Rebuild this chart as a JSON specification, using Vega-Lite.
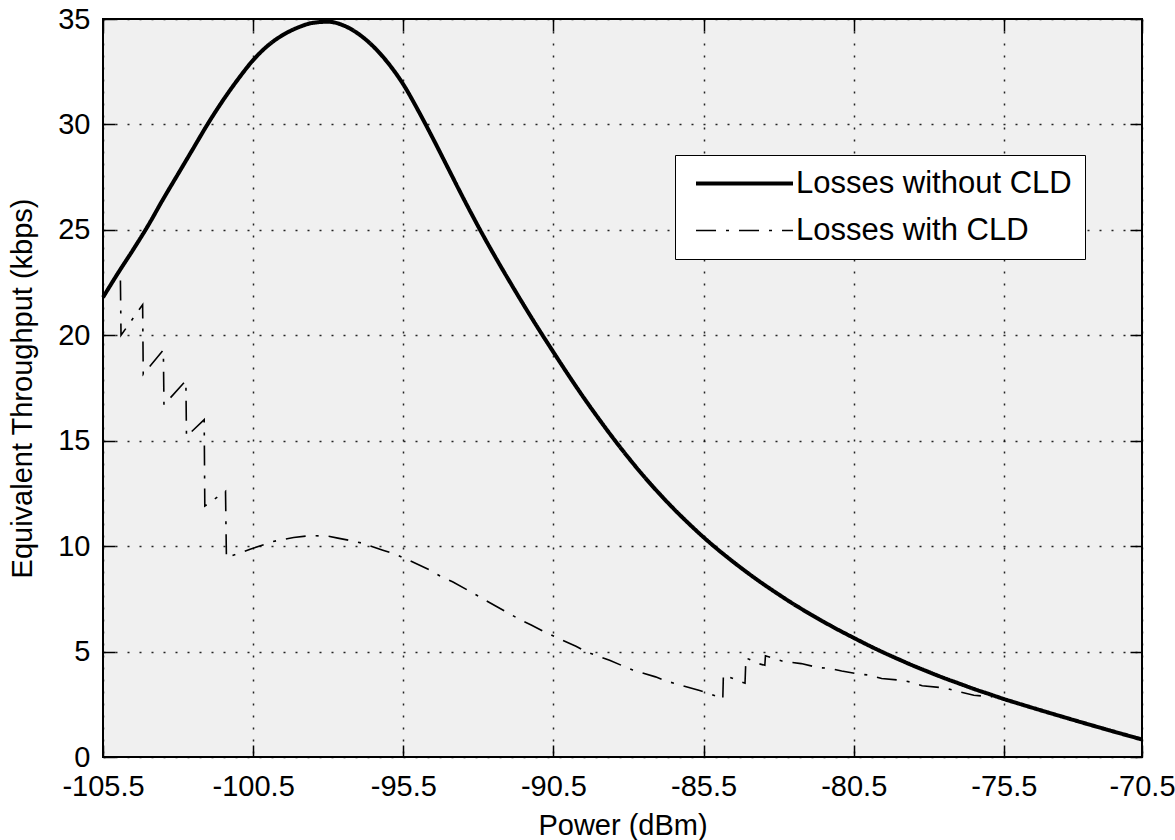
{
  "$schema": "https://vega.github.io/schema/vega-lite/v6.json",
  "width": 1039,
  "height": 738,
  "autosize": {"type": "none"},
  "padding": {"left": 103, "top": 19, "right": 33, "bottom": 83},
  "background": "white",
  "config": {
    "view": {"fill": "#f0f0f0", "stroke": "#000000", "strokeWidth": 2},
    "font": "Liberation Sans"
  },
  "datasets": {
    "curves": [
      {"series": "Losses without CLD", "power": -105.5, "kbps": 21.8},
      {"series": "Losses without CLD", "power": -105.0, "kbps": 22.95},
      {"series": "Losses without CLD", "power": -104.5, "kbps": 24.05},
      {"series": "Losses without CLD", "power": -104.0, "kbps": 25.2},
      {"series": "Losses without CLD", "power": -103.5, "kbps": 26.45},
      {"series": "Losses without CLD", "power": -103.0, "kbps": 27.65},
      {"series": "Losses without CLD", "power": -102.5, "kbps": 28.85},
      {"series": "Losses without CLD", "power": -102.0, "kbps": 30.05},
      {"series": "Losses without CLD", "power": -101.5, "kbps": 31.15},
      {"series": "Losses without CLD", "power": -101.0, "kbps": 32.15},
      {"series": "Losses without CLD", "power": -100.5, "kbps": 33.05},
      {"series": "Losses without CLD", "power": -100.0, "kbps": 33.75},
      {"series": "Losses without CLD", "power": -99.5, "kbps": 34.25},
      {"series": "Losses without CLD", "power": -99.0, "kbps": 34.6},
      {"series": "Losses without CLD", "power": -98.5, "kbps": 34.82},
      {"series": "Losses without CLD", "power": -98.0, "kbps": 34.87},
      {"series": "Losses without CLD", "power": -97.5, "kbps": 34.7},
      {"series": "Losses without CLD", "power": -97.0, "kbps": 34.3},
      {"series": "Losses without CLD", "power": -96.5, "kbps": 33.7},
      {"series": "Losses without CLD", "power": -96.0, "kbps": 32.9},
      {"series": "Losses without CLD", "power": -95.5, "kbps": 31.9},
      {"series": "Losses without CLD", "power": -95.0, "kbps": 30.65},
      {"series": "Losses without CLD", "power": -94.5, "kbps": 29.3},
      {"series": "Losses without CLD", "power": -94.0, "kbps": 27.9},
      {"series": "Losses without CLD", "power": -93.5, "kbps": 26.5},
      {"series": "Losses without CLD", "power": -93.0, "kbps": 25.15},
      {"series": "Losses without CLD", "power": -92.5, "kbps": 23.87},
      {"series": "Losses without CLD", "power": -92.0, "kbps": 22.65},
      {"series": "Losses without CLD", "power": -91.5, "kbps": 21.46},
      {"series": "Losses without CLD", "power": -91.0, "kbps": 20.31},
      {"series": "Losses without CLD", "power": -90.5, "kbps": 19.2},
      {"series": "Losses without CLD", "power": -90.0, "kbps": 18.11},
      {"series": "Losses without CLD", "power": -89.5, "kbps": 17.06},
      {"series": "Losses without CLD", "power": -89.0, "kbps": 16.06},
      {"series": "Losses without CLD", "power": -88.5, "kbps": 15.1},
      {"series": "Losses without CLD", "power": -88.0, "kbps": 14.19},
      {"series": "Losses without CLD", "power": -87.5, "kbps": 13.33},
      {"series": "Losses without CLD", "power": -87.0, "kbps": 12.53},
      {"series": "Losses without CLD", "power": -86.5, "kbps": 11.78},
      {"series": "Losses without CLD", "power": -86.0, "kbps": 11.08},
      {"series": "Losses without CLD", "power": -85.5, "kbps": 10.42},
      {"series": "Losses without CLD", "power": -85.0, "kbps": 9.81},
      {"series": "Losses without CLD", "power": -84.5, "kbps": 9.24},
      {"series": "Losses without CLD", "power": -84.0, "kbps": 8.7},
      {"series": "Losses without CLD", "power": -83.5, "kbps": 8.19},
      {"series": "Losses without CLD", "power": -83.0, "kbps": 7.71},
      {"series": "Losses without CLD", "power": -82.5, "kbps": 7.25},
      {"series": "Losses without CLD", "power": -82.0, "kbps": 6.82},
      {"series": "Losses without CLD", "power": -81.5, "kbps": 6.41},
      {"series": "Losses without CLD", "power": -81.0, "kbps": 6.02},
      {"series": "Losses without CLD", "power": -80.5, "kbps": 5.65},
      {"series": "Losses without CLD", "power": -80.0, "kbps": 5.29},
      {"series": "Losses without CLD", "power": -79.5, "kbps": 4.95},
      {"series": "Losses without CLD", "power": -79.0, "kbps": 4.63},
      {"series": "Losses without CLD", "power": -78.5, "kbps": 4.32},
      {"series": "Losses without CLD", "power": -78.0, "kbps": 4.03},
      {"series": "Losses without CLD", "power": -77.5, "kbps": 3.75},
      {"series": "Losses without CLD", "power": -77.0, "kbps": 3.49},
      {"series": "Losses without CLD", "power": -76.5, "kbps": 3.23},
      {"series": "Losses without CLD", "power": -76.0, "kbps": 2.99},
      {"series": "Losses without CLD", "power": -75.5, "kbps": 2.75},
      {"series": "Losses without CLD", "power": -75.0, "kbps": 2.53},
      {"series": "Losses without CLD", "power": -74.0, "kbps": 2.1},
      {"series": "Losses without CLD", "power": -73.0, "kbps": 1.68},
      {"series": "Losses without CLD", "power": -72.0, "kbps": 1.27},
      {"series": "Losses without CLD", "power": -71.0, "kbps": 0.87},
      {"series": "Losses without CLD", "power": -70.9, "kbps": 0.83},
      {"series": "Losses with CLD", "power": -104.92, "kbps": 22.6},
      {"series": "Losses with CLD", "power": -104.9, "kbps": 20.0},
      {"series": "Losses with CLD", "power": -104.18, "kbps": 21.45},
      {"series": "Losses with CLD", "power": -104.16, "kbps": 18.15},
      {"series": "Losses with CLD", "power": -103.49, "kbps": 19.3},
      {"series": "Losses with CLD", "power": -103.47, "kbps": 16.7},
      {"series": "Losses with CLD", "power": -102.74, "kbps": 17.85},
      {"series": "Losses with CLD", "power": -102.72, "kbps": 15.2},
      {"series": "Losses with CLD", "power": -102.13, "kbps": 16.0},
      {"series": "Losses with CLD", "power": -102.11, "kbps": 11.9},
      {"series": "Losses with CLD", "power": -101.42, "kbps": 12.6},
      {"series": "Losses with CLD", "power": -101.39, "kbps": 9.45},
      {"series": "Losses with CLD", "power": -100.6, "kbps": 9.85},
      {"series": "Losses with CLD", "power": -99.85, "kbps": 10.22},
      {"series": "Losses with CLD", "power": -99.15, "kbps": 10.41},
      {"series": "Losses with CLD", "power": -98.6, "kbps": 10.5},
      {"series": "Losses with CLD", "power": -98.0, "kbps": 10.47},
      {"series": "Losses with CLD", "power": -97.68, "kbps": 10.38},
      {"series": "Losses with CLD", "power": -97.24, "kbps": 10.26},
      {"series": "Losses with CLD", "power": -96.86, "kbps": 10.14},
      {"series": "Losses with CLD", "power": -96.18, "kbps": 9.81},
      {"series": "Losses with CLD", "power": -95.77, "kbps": 9.62},
      {"series": "Losses with CLD", "power": -95.39, "kbps": 9.38},
      {"series": "Losses with CLD", "power": -94.65, "kbps": 8.89},
      {"series": "Losses with CLD", "power": -94.27, "kbps": 8.58},
      {"series": "Losses with CLD", "power": -93.86, "kbps": 8.31},
      {"series": "Losses with CLD", "power": -93.16, "kbps": 7.76},
      {"series": "Losses with CLD", "power": -92.77, "kbps": 7.44},
      {"series": "Losses with CLD", "power": -92.35, "kbps": 7.1},
      {"series": "Losses with CLD", "power": -91.62, "kbps": 6.52},
      {"series": "Losses with CLD", "power": -91.24, "kbps": 6.26},
      {"series": "Losses with CLD", "power": -90.86, "kbps": 5.98},
      {"series": "Losses with CLD", "power": -90.16, "kbps": 5.51},
      {"series": "Losses with CLD", "power": -89.75, "kbps": 5.25},
      {"series": "Losses with CLD", "power": -89.39, "kbps": 4.98},
      {"series": "Losses with CLD", "power": -88.63, "kbps": 4.59},
      {"series": "Losses with CLD", "power": -88.24, "kbps": 4.35},
      {"series": "Losses with CLD", "power": -87.86, "kbps": 4.13},
      {"series": "Losses with CLD", "power": -87.1, "kbps": 3.8},
      {"series": "Losses with CLD", "power": -86.74, "kbps": 3.6},
      {"series": "Losses with CLD", "power": -86.36, "kbps": 3.45},
      {"series": "Losses with CLD", "power": -85.63, "kbps": 3.15},
      {"series": "Losses with CLD", "power": -85.25, "kbps": 2.98},
      {"series": "Losses with CLD", "power": -84.86, "kbps": 2.75},
      {"series": "Losses with CLD", "power": -84.84, "kbps": 3.9},
      {"series": "Losses with CLD", "power": -84.12, "kbps": 3.5},
      {"series": "Losses with CLD", "power": -84.09, "kbps": 4.7},
      {"series": "Losses with CLD", "power": -83.65, "kbps": 4.42},
      {"series": "Losses with CLD", "power": -83.46, "kbps": 4.35},
      {"series": "Losses with CLD", "power": -83.44, "kbps": 4.8},
      {"series": "Losses with CLD", "power": -82.89, "kbps": 4.55},
      {"series": "Losses with CLD", "power": -82.25, "kbps": 4.43},
      {"series": "Losses with CLD", "power": -81.67, "kbps": 4.24},
      {"series": "Losses with CLD", "power": -81.28, "kbps": 4.2},
      {"series": "Losses with CLD", "power": -80.9, "kbps": 4.08},
      {"series": "Losses with CLD", "power": -80.33, "kbps": 3.93},
      {"series": "Losses with CLD", "power": -79.94, "kbps": 3.88},
      {"series": "Losses with CLD", "power": -79.57, "kbps": 3.72},
      {"series": "Losses with CLD", "power": -78.94, "kbps": 3.64},
      {"series": "Losses with CLD", "power": -78.59, "kbps": 3.55},
      {"series": "Losses with CLD", "power": -78.22, "kbps": 3.38},
      {"series": "Losses with CLD", "power": -77.44, "kbps": 3.27},
      {"series": "Losses with CLD", "power": -77.09, "kbps": 3.13},
      {"series": "Losses with CLD", "power": -76.88, "kbps": 3.06},
      {"series": "Losses with CLD", "power": -76.5, "kbps": 2.93},
      {"series": "Losses with CLD", "power": -75.9, "kbps": 2.85}
    ]
  },
  "data": {"name": "curves"},
  "layer": [
    {
      "transform": [{"filter": "datum.series === 'Losses without CLD'"}],
      "mark": {"type": "line", "color": "black", "strokeCap": "butt", "interpolate": "monotone"},
      "encoding": {
        "x": {
          "field": "power", "type": "quantitative",
          "scale": {"domain": [-105.5, -70.9], "nice": false, "zero": false},
          "axis": {
            "orient": "bottom",
            "values": [-105.5, -100.5, -95.5, -90.5, -85.5, -80.5, -75.5, -70.9],
            "labelExpr": "datum.value > -71 ? '-70.5' : toString(datum.value)",
            "title": "Power (dBm)",
            "titleFont": "Liberation Sans", "titleFontSize": 29, "titleFontWeight": "normal", "titleColor": "black",
            "titleY": 68, "titleBaseline": "middle",
            "labelFont": "Liberation Sans", "labelFontSize": 29, "labelColor": "black", "labelPadding": 27,
            "labelFlush": false, "labelOverlap": false, "labelBound": false,
            "tickSize": -12, "tickColor": "black", "tickWidth": 1.5,
            "domain": false,
            "grid": true, "gridDash": [2, 10], "gridColor": "black", "gridWidth": 1.5, "gridOpacity": 0.85
          }
        },
        "y": {
          "field": "kbps", "type": "quantitative",
          "scale": {"domain": [0, 35], "nice": false, "zero": true},
          "axis": {
            "orient": "left",
            "values": [0, 5, 10, 15, 20, 25, 30, 35],
            "title": "Equivalent Throughput (kbps)",
            "titleFont": "Liberation Sans", "titleFontSize": 29, "titleFontWeight": "normal", "titleColor": "black",
            "titleX": -81, "titleY": 369, "titleAngle": -90, "titleBaseline": "middle", "titleAlign": "center",
            "labelFont": "Liberation Sans", "labelFontSize": 29, "labelColor": "black", "labelPadding": 25,
            "labelFlush": false, "labelOverlap": false, "labelBound": false,
            "tickSize": -12, "tickColor": "black", "tickWidth": 1.5,
            "domain": false,
            "grid": true, "gridDash": [2, 10], "gridColor": "black", "gridWidth": 1.5, "gridOpacity": 0.85
          }
        },
        "strokeDash": {
          "field": "series", "type": "nominal",
          "scale": {"domain": ["Losses without CLD", "Losses with CLD"], "range": [[1, 0], [20, 10, 3, 10]]},
          "legend": {
            "title": null, "orient": "none", "legendX": 572, "legendY": 136,
            "fillColor": "white", "strokeColor": "black", "padding": 13,
            "symbolType": "M-5,0H5", "symbolSize": 376, "symbolOffset": 41,
            "symbolStrokeColor": "black", "symbolFillColor": "transparent",
            "labelOffset": 36, "labelFont": "Liberation Sans", "labelFontSize": 31, "labelColor": "black",
            "labelLimit": 400, "rowPadding": 15
          }
        },
        "strokeWidth": {
          "field": "series", "type": "ordinal",
          "scale": {"domain": ["Losses without CLD", "Losses with CLD"], "range": [4, 1.6]},
          "legend": {
            "title": null, "orient": "none", "legendX": 572, "legendY": 136,
            "fillColor": "white", "strokeColor": "black", "padding": 13,
            "symbolType": "M-5,0H5", "symbolSize": 376, "symbolOffset": 41,
            "symbolStrokeColor": "black", "symbolFillColor": "transparent",
            "labelOffset": 36, "labelFont": "Liberation Sans", "labelFontSize": 31, "labelColor": "black",
            "labelLimit": 400, "rowPadding": 15
          }
        }
      }
    },
    {
      "transform": [{"filter": "datum.series === 'Losses with CLD'"}],
      "mark": {"type": "line", "color": "black", "strokeCap": "butt", "interpolate": "linear"},
      "encoding": {
        "x": {"field": "power", "type": "quantitative", "axis": null},
        "y": {"field": "kbps", "type": "quantitative", "axis": null},
        "strokeDash": {"field": "series", "type": "nominal"},
        "strokeWidth": {"field": "series", "type": "ordinal"}
      }
    },
    {
      "mark": {"type": "line", "strokeOpacity": 0},
      "encoding": {
        "x": {
          "field": "power", "type": "quantitative",
          "axis": {
            "orient": "top", "values": [-105.5, -100.5, -95.5, -90.5, -85.5, -80.5, -75.5, -70.9],
            "labels": false, "title": null, "grid": false, "domain": false,
            "tickSize": -12, "tickColor": "black", "tickWidth": 1.5
          }
        },
        "y": {
          "field": "kbps", "type": "quantitative",
          "axis": {
            "orient": "right", "values": [0, 5, 10, 15, 20, 25, 30, 35],
            "labels": false, "title": null, "grid": false, "domain": false,
            "tickSize": -12, "tickColor": "black", "tickWidth": 1.5
          }
        },
        "detail": {"field": "series", "type": "nominal"}
      }
    }
  ],
  "resolve": {"axis": {"x": "independent", "y": "independent"}}
}
